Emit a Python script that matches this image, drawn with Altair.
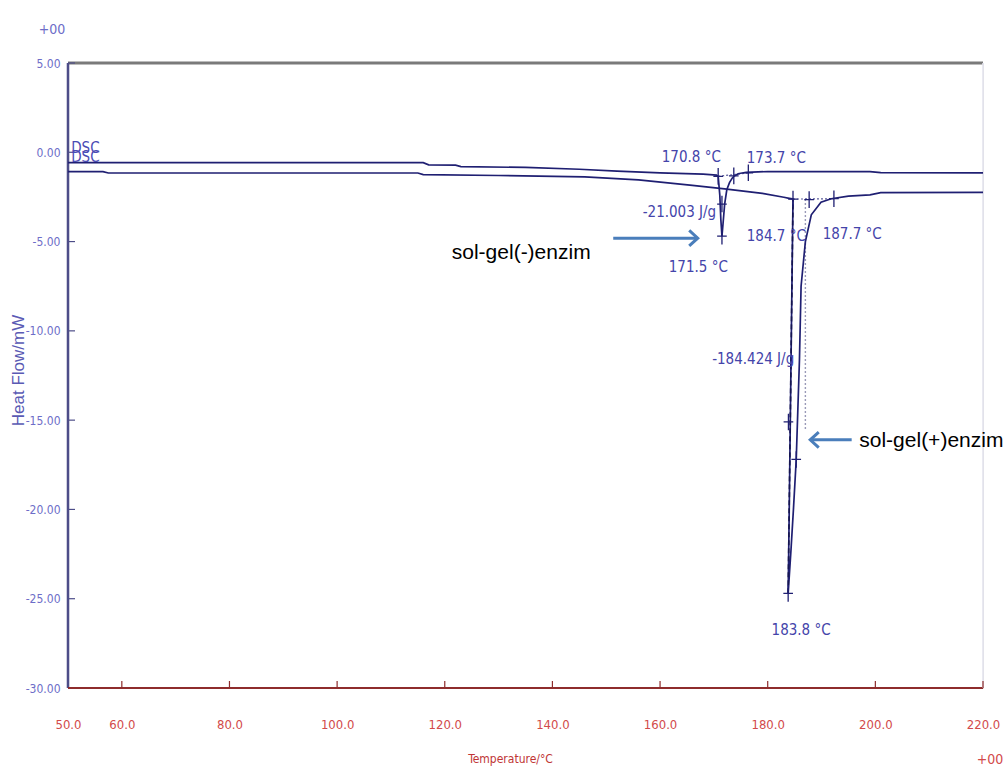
import altair as alt
import pandas as pd

# ---- DSC curves (temperature in °C, heat flow in mW) ----
# sol-gel(-)enzim : small melting endotherm near 171.5 °C
temp_minus = [50.0, 80.0, 116.0, 117.0, 122.0, 123.0, 135.0, 145.0, 152.0, 160.0,
              168.0, 170.5, 170.8, 171.1, 171.3, 171.5, 171.7, 172.0, 172.4, 172.9,
              173.4, 173.7, 174.5, 176.0, 180.0, 199.0, 201.0, 220.0]
flow_minus = [-0.58, -0.58, -0.58, -0.70, -0.72, -0.80, -0.85, -0.95, -1.05, -1.15,
              -1.22, -1.28, -1.35, -2.40, -3.80, -4.70, -4.00, -2.90, -2.10, -1.70,
              -1.45, -1.35, -1.20, -1.12, -1.08, -1.08, -1.14, -1.15]

# sol-gel(+)enzim : large melting endotherm near 183.8 °C
temp_plus = [50.0, 56.5, 57.5, 115.0, 116.0, 130.0, 146.0, 156.0, 166.0, 172.0,
             179.0, 183.0, 184.0, 184.7, 184.6, 184.4, 184.2, 184.0, 183.8, 184.3,
             184.8, 185.3, 185.9, 186.2, 187.0, 188.1, 189.9, 191.8, 195.0, 199.0,
             201.0, 220.0]
flow_plus = [-1.08, -1.08, -1.16, -1.16, -1.25, -1.30, -1.38, -1.55, -1.85, -2.05,
             -2.30, -2.52, -2.58, -2.62, -5.00, -10.00, -15.00, -20.00, -24.70, -22.40,
             -19.90, -17.20, -11.60, -7.50, -5.00, -3.50, -2.80, -2.60, -2.45, -2.38,
             -2.26, -2.25]

# analysis markers placed by the DSC software
marker_temp = [170.8, 171.5, 171.5, 173.7, 176.4,
               184.7, 187.7, 192.3, 183.8, 183.85, 185.3]
marker_flow = [-1.35, -2.90, -4.70, -1.32, -1.15,
               -2.62, -2.65, -2.60, -24.70, -15.10, -17.20]

# integration baselines of both peaks
base_temp = [170.8, 176.4, 184.7, 192.3]
base_flow = [-1.35, -1.15, -2.62, -2.60]
base_peak = ["minus", "minus", "plus", "plus"]

# result labels
note_text = ["170.8 °C", "173.7 °C", "-21.003 J/g", "171.5 °C",
             "184.7 °C", "187.7 °C", "-184.424 J/g", "183.8 °C"]
note_temp = [165.8, 181.6, 163.6, 167.1, 181.6, 195.7, 177.3, 186.2]
note_flow = [-0.26, -0.32, -3.33, -6.40, -4.69, -4.58, -11.60, -26.75]

# sample names with arrows
sample_text = ["sol-gel(-)enzim", "sol-gel(+)enzim"]
sample_temp = [134.2, 210.4]
sample_flow = [-5.64, -16.17]
arrow_from = [151.3, 195.6]
arrow_to = [167.0, 187.9]
arrow_flow = [-4.81, -16.10]

x_ticks = [50, 60, 80, 100, 120, 140, 160, 180, 200, 220]
y_ticks = [5, 0, -5, -10, -15, -20, -25, -30]

NAVY = "#1f1f72"
LBL = "#4444aa"
NARROW = "Liberation Sans Narrow, DejaVu Sans Condensed, Arial Narrow, sans-serif"

x_scale = alt.Scale(domain=[50, 220], nice=False, zero=False)
y_scale = alt.Scale(domain=[-30, 5], nice=False, zero=False)

x_axis = alt.Axis(values=x_ticks, labelExpr="format(datum.value, '.1f')",
                  labelColor="#d24a4a", labelFont=NARROW, labelFontSize=13,
                  labelPadding=30, labelFlush=False, ticks=False, domain=False, grid=False,
                  title="Temperature/°C", titleColor="#c03535", titleFont=NARROW,
                  titleFontSize=12, titleFontWeight="normal", titleX=442, titleY=65,
                  titleAlign="center")
y_axis = alt.Axis(values=y_ticks,
                  labelExpr="(datum.value < 0 ? '-' : '') + format(abs(datum.value), '.2f')",
                  labelColor="#6d6dc8", labelFont=NARROW, labelFontSize=12,
                  labelPadding=8, labelFlush=False, ticks=False, domain=False, grid=False,
                  title="Heat Flow/mW", titleColor="#5a5ab4", titleFont="Arial, Liberation Sans",
                  titleFontSize=17, titleFontWeight="normal", titleX=-50, titleY=307,
                  titleAngle=270, titleBaseline="middle", titleAlign="center")

# shared positional encodings (same axis definition in every layer)
XT = alt.X("T:Q", scale=x_scale, axis=x_axis)
YV = alt.Y("V:Q", scale=y_scale, axis=y_axis)

curves = pd.concat([
    pd.DataFrame({"T": temp_minus, "V": flow_minus, "i": range(len(temp_minus)), "s": "minus"}),
    pd.DataFrame({"T": temp_plus, "V": flow_plus, "i": range(len(temp_plus)), "s": "plus"}),
])

lines = alt.Chart(curves).mark_line(color=NAVY, strokeWidth=1.7).encode(
    x=XT, y=YV, order="i:Q", detail="s:N")

# left flank of the big peak drawn dashed on top of the trace
flank = pd.DataFrame({"T": [184.7, 183.8], "V": [-2.62, -24.70]})
flank_line = alt.Chart(flank).mark_line(color="#15154f", strokeWidth=1.6, strokeDash=[5, 3]).encode(
    x=XT, y=YV)

guide = pd.DataFrame({"T": [187.0, 187.0], "V": [-2.62, -15.5]})
guide_line = alt.Chart(guide).mark_line(color="#9a9ab8", strokeWidth=1.4, strokeDash=[2, 2]).encode(
    x=XT, y=YV)

base_df = pd.DataFrame({"T": base_temp, "V": base_flow, "p": base_peak})
base_lines = alt.Chart(base_df).mark_line(color="#5a5a9a", strokeWidth=1.2, strokeDash=[2, 2]).encode(
    x=XT, y=YV, detail="p:N")

markers = alt.Chart(pd.DataFrame({"T": marker_temp, "V": marker_flow})).mark_point(
    shape="M-0.7,0H0.7M0,-1.2V1.2", size=190, filled=False, color=NAVY, strokeWidth=1.3,
    opacity=1).encode(x=XT, y=YV)

notes = alt.Chart(pd.DataFrame({"T": note_temp, "V": note_flow, "t": note_text})).mark_text(
    font=NARROW, fontSize=15, color=LBL, align="center", baseline="middle").encode(
    x=XT, y=YV, text="t:N")

dsc = alt.Chart(pd.DataFrame({"T": [50.6, 50.6], "V": [0.25, -0.25], "t": ["DSC", "DSC"]})).mark_text(
    font=NARROW, fontSize=15, color="#4a4ab4", align="left", baseline="middle").encode(
    x=XT, y=YV, text="t:N")

samples = alt.Chart(pd.DataFrame({"T": sample_temp, "V": sample_flow, "t": sample_text})).mark_text(
    font="Arial, Liberation Sans", fontSize=21, color="black", align="center", baseline="middle").encode(
    x=XT, y=YV, text="t:N")

arrow_df = pd.DataFrame({"T": arrow_from, "T2": arrow_to, "V": arrow_flow})
arrow_shafts = alt.Chart(arrow_df).mark_rule(color="#4a7ebb", strokeWidth=3).encode(
    x=XT, x2="T2:Q", y=YV)
heads = pd.DataFrame({"T": arrow_to, "V": arrow_flow, "d": ["right", "left"]})
head_r = alt.Chart(heads[heads.d == "right"]).mark_point(
    shape="M-1.1,-1L0,0L-1.1,1", size=240, filled=False, color="#4a7ebb", strokeWidth=3,
    opacity=1).encode(x=XT, y=YV)
head_l = alt.Chart(heads[heads.d == "left"]).mark_point(
    shape="M1.1,-1L0,0L1.1,1", size=240, filled=False, color="#4a7ebb", strokeWidth=3,
    opacity=1).encode(x=XT, y=YV)

# frame: grey top, blue left, dark red bottom
frame = pd.DataFrame({
    "T": [50, 50, 50, 220], "T2": [220, 50, 220, 220],
    "V": [5, 5, -30, 5], "V2": [5, -30, -30, -30],
    "edge": ["top", "left", "bottom", "right"],
})
frame_rules = alt.Chart(frame).mark_rule().encode(
    x=XT, x2="T2:Q", y=YV, y2="V2:Q",
    color=alt.Color("edge:N", legend=None, scale=alt.Scale(
        domain=["top", "left", "bottom", "right"],
        range=["#7a7a7a", "#4d4d88", "#8e2c2c", "#e4e4ee"])),
    strokeWidth=alt.StrokeWidth("edge:N", legend=None, scale=alt.Scale(
        domain=["top", "left", "bottom", "right"], range=[3, 1.6, 2, 1])),
)

# inward tick marks
y_tick_marks = alt.Chart(pd.DataFrame({"V": y_ticks[:-1]})).mark_rule(color="#4d4d88", strokeWidth=1.2).encode(
    y=YV, x=alt.value(0), x2=alt.value(7))
x_tick_marks = alt.Chart(pd.DataFrame({"T": x_ticks[1:]})).mark_rule(color="#8e2c2c", strokeWidth=1.2).encode(
    x=XT, y=alt.value(625), y2=alt.value(618))

# exponent notes of the instrument axes
anchor = pd.DataFrame({"k": [0]})
exp_top = alt.Chart(anchor).mark_text(font=NARROW, fontSize=14, color="#6d6dc8").encode(
    x=alt.value(-16), y=alt.value(-33), text=alt.value("+00"))
exp_bottom = alt.Chart(anchor).mark_text(font=NARROW, fontSize=14, color="#d24a4a").encode(
    x=alt.value(922), y=alt.value(697), text=alt.value("+00"))

chart = alt.layer(
    frame_rules, y_tick_marks, x_tick_marks,
    base_lines, guide_line, lines, flank_line, markers, notes, dsc,
    arrow_shafts, head_r, head_l, samples, exp_top, exp_bottom,
).properties(
    width=915, height=625,
    autosize=alt.AutoSizeParams(type="none"),
    padding={"left": 68, "top": 63, "right": 23, "bottom": 83},
).configure_view(stroke=None).configure(background="white")

chart.save("out.html", embed_options={"renderer": "svg", "actions": False})
